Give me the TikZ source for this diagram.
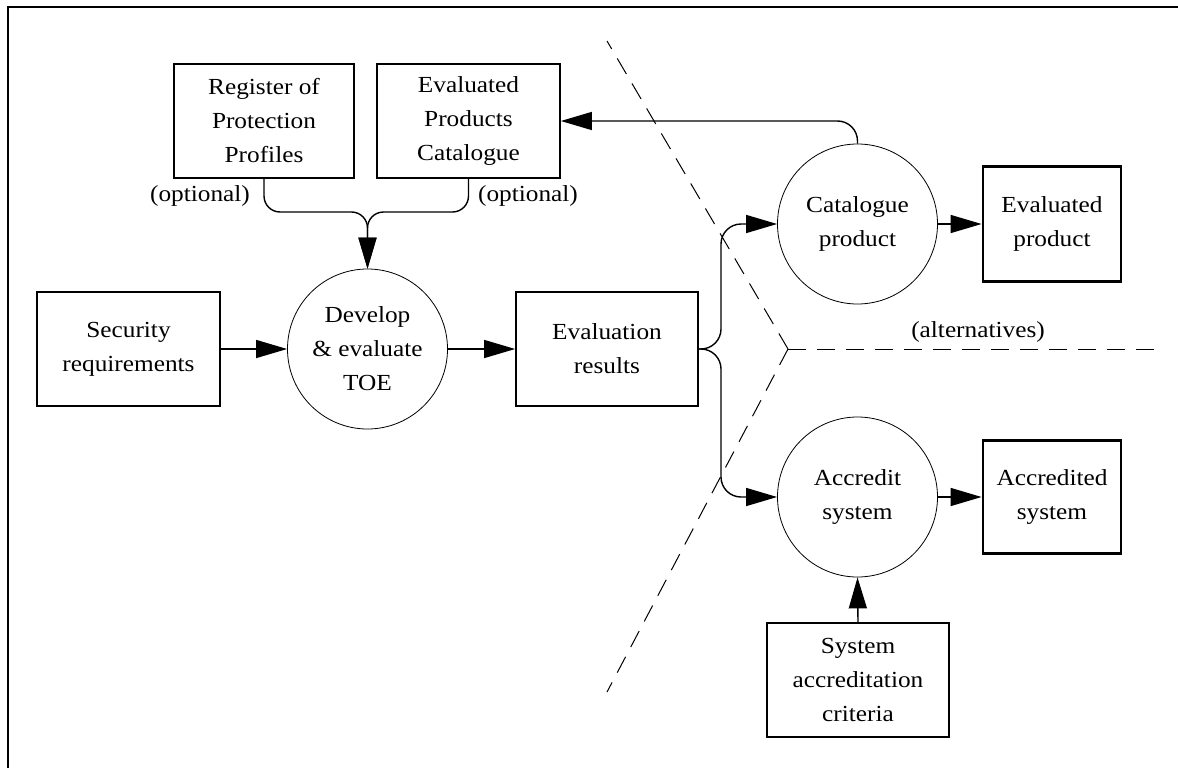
\documentclass[tikz,border=0pt]{standalone}
\usepackage{fontspec}
\setmainfont{Liberation Serif}[FakeStretch=1.1]
\usetikzlibrary{arrows.meta}
\begin{document}
\begin{tikzpicture}[x=1pt,y=-1pt,
  txt/.style={font=\fontsize{23}{34}\selectfont, align=center},
  box/.style={txt, draw, line width=1.7pt, inner sep=0pt},
  boldbox/.style={box, line width=2.8pt},
  proc/.style={txt, draw, circle, line width=0.8pt, minimum size=160pt, inner sep=0pt},
  flow/.style={line width=1.4pt, -{Triangle[length=31pt,width=18pt]}},
  divider/.style={line width=1pt, dash pattern=on 18pt off 11pt},
]
\useasboundingbox (0,0) rectangle (1178,768);

% page frame (top and left rules)
\draw[line width=2pt] (8,768) -- (8,7) -- (1178,7);

% inputs and stores
\node[box, minimum width=180pt, minimum height=114pt] (reg) at (264,121)
  {Register of\\Protection\\Profiles};
\node[box, minimum width=183pt, minimum height=114pt] (epc) at (468.5,121)
  {Evaluated\\Products\\Catalogue};
\node[box, minimum width=183pt, minimum height=114pt] (sec) at (128.5,349)
  {Security\\requirements};
\node[box, minimum width=182pt, minimum height=114pt] (res) at (607,349)
  {Evaluation\\results};
\node[box, minimum width=182pt, minimum height=114pt] (crit) at (858,680)
  {System\\accreditation\\criteria};

% processes
\node[proc] (dev) at (367.5,349) {Develop\\\& evaluate\\TOE};
\node[proc] (cat) at (857.5,224) {Catalogue\\product};
\node[proc] (acc) at (857.5,497) {Accredit\\system};

% outcomes
\node[boldbox, minimum width=138pt, minimum height=115pt] (evp) at (1052,224)
  {Evaluated\\product};
\node[boldbox, minimum width=138pt, minimum height=113pt] (acs) at (1052,497)
  {Accredited\\system};

% annotations
\node[txt] (opt1) at (200,196) {(optional)};
\node[txt] (opt2) at (528,196) {(optional)};
\node[txt] (alt) at (978,332) {(alternatives)};

% optional inputs merging into development
\coordinate (merge) at (367.5,212);
\draw[flow, rounded corners=16pt] (reg.south) |- (merge) -- (dev.north);
\draw[flow, rounded corners=16pt] (epc.south) |- (merge) -- (dev.north);

% main flow
\draw[flow] (sec.east) -- (dev.west);
\draw[flow] (dev.east) -- (res.west);

% alternatives from the evaluation results
\coordinate (fork) at (721,349);
\draw[flow, rounded corners=20pt] (res.east) -- (fork) |- (cat.west);
\draw[flow, rounded corners=20pt] (res.east) -- (fork) |- (acc.west);

\draw[flow, rounded corners=20pt] (cat.north) |- (epc.east);
\draw[flow] (cat.east) -- (evp.west);
\draw[flow] (acc.east) -- (acs.west);
\draw[flow] (crit.north) -- (acc.south);

% dashed dividers between the alternatives
\coordinate (hub) at (788,349);
\coordinate (dtop) at (607,41);
\coordinate (dbot) at (607,692);
\coordinate (dright) at (1156,349);
\draw[divider] (hub) -- (dtop);
\draw[divider] (hub) -- (dright);
\draw[divider] (hub) -- (dbot);
\end{tikzpicture}
\end{document}
